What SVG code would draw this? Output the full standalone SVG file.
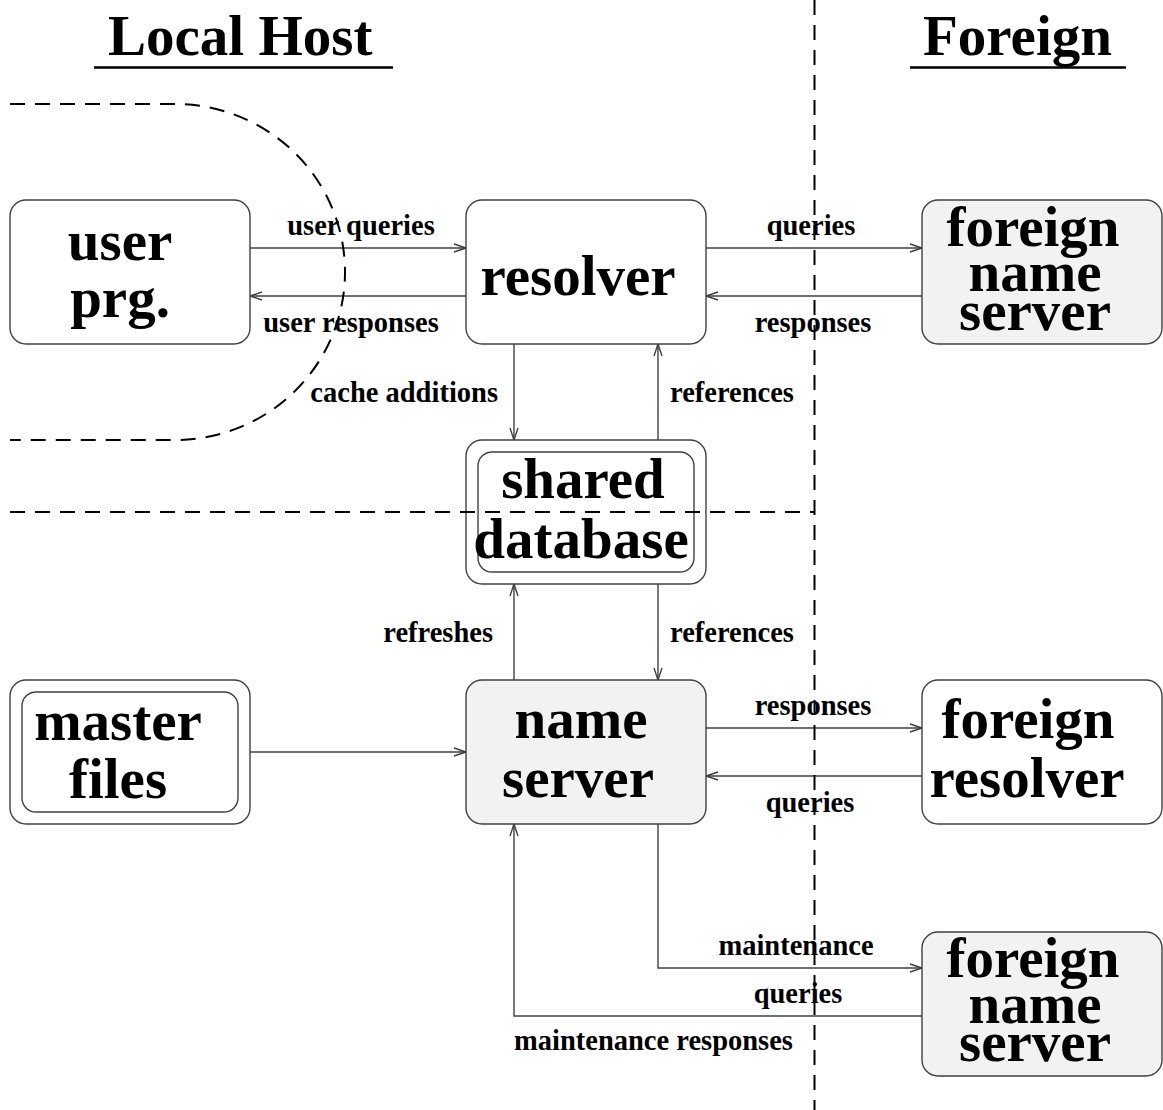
<svg xmlns="http://www.w3.org/2000/svg" width="1163" height="1110" viewBox="0 0 1163 1110">
<style>
  .box { fill: #ffffff; stroke: #404040; stroke-width: 1.4; }
  .gray { fill: #f2f2f2; }
  .node { font-family: "Liberation Serif", "Times New Roman", serif; font-weight: bold; font-size: 57px; fill: #000; text-anchor: middle; }
  .lbl { font-family: "Liberation Serif", "Times New Roman", serif; font-weight: bold; font-size: 28.5px; fill: #000; }
  .title { font-family: "Liberation Serif", "Times New Roman", serif; font-weight: bold; font-size: 57px; fill: #000; }
  .conn { fill: none; stroke: #404040; stroke-width: 1.4; marker-end: url(#arr); }
  .dash { fill: none; stroke: #000; stroke-width: 2; stroke-dasharray: 15 10; }
  .ul { stroke: #000; stroke-width: 2.5; }
</style>
<defs>
  <marker id="arr" markerUnits="userSpaceOnUse" markerWidth="14" markerHeight="10" refX="13" refY="5" orient="auto">
    <path d="M1,1 L13,5 L1,9" fill="none" stroke="#404040" stroke-width="1.4"/>
  </marker>
</defs>
<rect width="1163" height="1110" fill="#ffffff"/>

<g id="titles">
  <text class="title" x="108" y="55">Local Host</text>
  <line class="ul" x1="94" y1="67.5" x2="393" y2="67.5"/>
  <text class="title" x="923" y="55">Foreign</text>
  <line class="ul" x1="910" y1="67.5" x2="1126" y2="67.5"/>
</g>

<g id="connectors">
  <line class="conn" x1="250" y1="248" x2="466" y2="248"/>
  <line class="conn" x1="466" y1="296" x2="250" y2="296"/>
  <line class="conn" x1="706" y1="248" x2="922" y2="248"/>
  <line class="conn" x1="922" y1="296" x2="706" y2="296"/>
  <line class="conn" x1="514" y1="344" x2="514" y2="440"/>
  <line class="conn" x1="658" y1="440" x2="658" y2="344"/>
  <line class="conn" x1="514" y1="680" x2="514" y2="584"/>
  <line class="conn" x1="658" y1="584" x2="658" y2="680"/>
  <line class="conn" x1="250" y1="752" x2="466" y2="752"/>
  <line class="conn" x1="706" y1="728" x2="922" y2="728"/>
  <line class="conn" x1="922" y1="776" x2="706" y2="776"/>
  <polyline class="conn" points="658,824 658,968 922,968"/>
  <polyline class="conn" points="922,1016 514,1016 514,824"/>
  <text class="lbl" x="361" y="235" text-anchor="middle">user queries</text>
  <text class="lbl" x="351" y="332" text-anchor="middle">user responses</text>
  <text class="lbl" x="811" y="235" text-anchor="middle">queries</text>
  <text class="lbl" x="813" y="332" text-anchor="middle">responses</text>
  <text class="lbl" x="498" y="402" text-anchor="end">cache additions</text>
  <text class="lbl" x="670" y="402">references</text>
  <text class="lbl" x="493" y="642" text-anchor="end">refreshes</text>
  <text class="lbl" x="670" y="642">references</text>
  <text class="lbl" x="813" y="715" text-anchor="middle">responses</text>
  <text class="lbl" x="810" y="812" text-anchor="middle">queries</text>
  <text class="lbl" x="796" y="955" text-anchor="middle">maintenance</text>
  <text class="lbl" x="798" y="1003" text-anchor="middle">queries</text>
  <text class="lbl" x="514" y="1050">maintenance responses</text>
</g>

<g id="user-prg">
  <rect class="box" x="10" y="200" width="240" height="144" rx="16"/>
  <text class="node" x="120" y="260">user</text>
  <text class="node" x="120" y="317">prg.</text>
</g>
<g id="resolver">
  <rect class="box" x="466" y="200" width="240" height="144" rx="16"/>
  <text class="node" x="578" y="295">resolver</text>
</g>
<g id="foreign-name-server-1">
  <rect class="box gray" x="922" y="200" width="240" height="144" rx="16"/>
  <text class="node" x="1033" y="246">foreign</text>
  <text class="node" x="1035" y="291">name</text>
  <text class="node" x="1035" y="330">server</text>
</g>
<g id="shared-database">
  <rect class="box" x="466" y="440" width="240" height="144" rx="16"/>
  <rect class="box" x="478" y="452" width="216" height="120" rx="14"/>
  <text class="node" x="583" y="498">shared</text>
  <text class="node" x="581" y="558">database</text>
</g>
<g id="master-files">
  <rect class="box" x="10" y="680" width="240" height="144" rx="16"/>
  <rect class="box" x="22" y="692" width="216" height="120" rx="14"/>
  <text class="node" x="118" y="740">master</text>
  <text class="node" x="118" y="798">files</text>
</g>
<g id="name-server">
  <rect class="box gray" x="466" y="680" width="240" height="144" rx="16"/>
  <text class="node" x="581" y="738">name</text>
  <text class="node" x="578" y="797">server</text>
</g>
<g id="foreign-resolver">
  <rect class="box" x="922" y="680" width="240" height="144" rx="16"/>
  <text class="node" x="1028" y="738">foreign</text>
  <text class="node" x="1027" y="797">resolver</text>
</g>
<g id="foreign-name-server-2">
  <rect class="box gray" x="922" y="932" width="240" height="144" rx="16"/>
  <text class="node" x="1033" y="977">foreign</text>
  <text class="node" x="1035" y="1023">name</text>
  <text class="node" x="1035" y="1061">server</text>
</g>

<g id="boundaries">
  <path class="dash" d="M10 104 L175 104 A170 168 0 0 1 175 440 L10 440"/>
  <line class="dash" x1="10" y1="512" x2="814" y2="512"/>
  <line class="dash" x1="814.5" y1="0" x2="814.5" y2="1110"/>
</g>
</svg>
